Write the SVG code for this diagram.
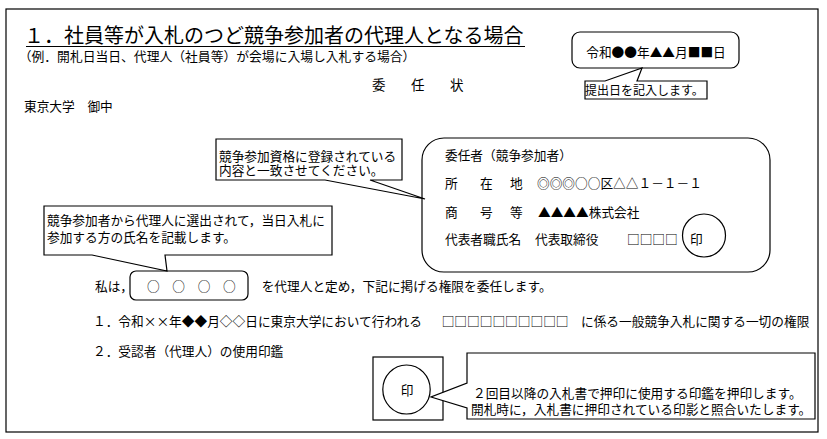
<svg xmlns="http://www.w3.org/2000/svg" width="827" height="439" viewBox="0 0 827 439">
<style>
text{font-family:"Noto Sans CJK JP","Noto Sans CJK SC",sans-serif;fill:#000;font-size:12.7px}
.sh{fill:#fff;stroke:#000;stroke-width:1.2}
.ln{fill:none;stroke:#000;stroke-width:1.2}
</style>
<rect x="0" y="0" width="827" height="439" fill="#fff"/>
<rect id="frame" x="6" y="9" width="812" height="423" class="ln" stroke-width="1.4"/>

<g id="title">
<text x="24" y="43" style="font-size:20px">１．社員等が入札のつど競争参加者の代理人となる場合</text>
<line x1="26" y1="46.5" x2="525" y2="46.5" class="ln" stroke-width="1.4"/>
<text x="18.7" y="61" style="font-size:12.8px">（例．開札日当日、代理人（社員等）が会場に入場し入札する場合）</text>
</g>

<g id="doc-title"><text x="372" y="89.8" style="font-size:13.5px;letter-spacing:6px">委　任　状</text></g>
<g id="addressee"><text x="24" y="110.5">東京大学　御中</text></g>

<g id="date-box">
<rect x="572" y="32" width="167" height="36" rx="8" class="sh"/>
<text x="656" y="57.2" text-anchor="middle">令和●●年▲▲月■■日</text>
</g>
<g id="date-note">
<path d="M585,81 H605 L642,68 L637,81 H707 V99 H585 Z" class="sh"/>
<text x="585" y="94.8" style="font-size:12px">提出日を記入します。</text>
</g>

<g id="qualification-note">
<path d="M216,139 H402 V180 H370 L425,199 L325,180 H216 Z" class="sh"/>
<text x="219" y="160.8">競争参加資格に登録されている</text>
<text x="219" y="174.8">内容と一致させてください。</text>
</g>

<g id="principal-box">
<rect x="422" y="138" width="348" height="134" rx="22" class="ln"/>
<text x="445" y="159.8">委任者（競争参加者）</text>
<text x="445 462.5 480 495 510" y="187.8">所　在　地</text>
<text x="537" y="187.8">◎◎◎○○区△△１－１－１</text>
<text x="445 462.5 480 495 510" y="216.5">商　号　等</text>
<text x="538" y="216.5">▲▲▲▲株式会社</text>
<text x="445" y="243.8">代表者職氏名</text>
<text x="535" y="243.8">代表取締役</text>
<text x="627" y="243.8">□□□□</text>
<circle cx="704" cy="235.5" r="21.5" class="ln"/>
<text x="690" y="243.8">印</text>
</g>

<g id="agent-note">
<path d="M44,206 H332 V255 H165 L167,271 L92,255 H44 Z" class="sh"/>
<text x="47" y="224.8">競争参加者から代理人に選出されて，当日入札に</text>
<text x="47" y="241.5">参加する方の氏名を記載します。</text>
</g>

<g id="agent-name">
<text x="95" y="290.5">私は，</text>
<rect x="130" y="271" width="118" height="29" rx="6" class="ln"/>
<text x="147" y="290.5">○　○　○　○</text>
<text x="261.7" y="290.5">を代理人と定め，下記に掲げる権限を委任します。</text>
</g>

<g id="item1">
<text x="93" y="325.8">１．令和××年◆◆月◇◇日に東京大学において行われる</text>
<text x="441.7" y="325.8">□□□□□□□□□□</text>
<text x="581" y="325.8">に係る一般競争入札に関する一切の権限</text>
</g>
<g id="item2"><text x="93" y="355.8">２．受認者（代理人）の使用印鑑</text></g>

<g id="seal">
<rect x="373" y="357" width="70" height="63" class="ln"/>
<ellipse cx="406.5" cy="389.5" rx="23.7" ry="24.5" class="ln"/>
<text x="407" y="394.6" text-anchor="middle">印</text>
</g>
<g id="seal-note">
<path d="M467,353 H815 V419 H467 V408 L431,397 L467,383 Z" class="sh"/>
<text x="473" y="398">２回目以降の入札書で押印に使用する印鑑を押印します。</text>
<text x="471" y="414">開札時に，入札書に押印されている印影と照合いたします。</text>
</g>
<g id="connectors"></g>
</svg>
